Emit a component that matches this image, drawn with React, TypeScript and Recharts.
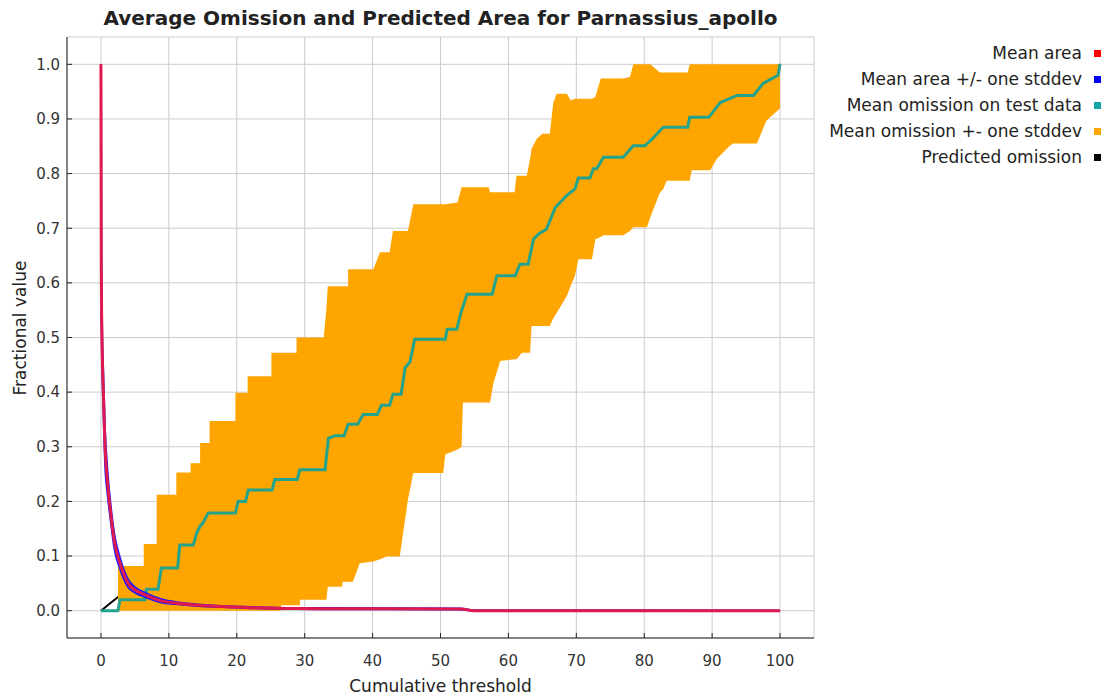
import { ComposedChart, Area, Line, XAxis, YAxis, CartesianGrid } from 'recharts'

const xTicks = [0, 10, 20, 30, 40, 50, 60, 70, 80, 90, 100]
const yTicks = [0, 0.1, 0.2, 0.3, 0.4, 0.5, 0.6, 0.7, 0.8, 0.9, 1.0]

// orange band (mean omission +- one stddev): threshold, lower edge, upper edge
const bandX = [
  2.5, 6.3, 6.3, 8.2, 8.2, 11.1, 11.1, 13.2, 13.2, 14.6, 14.6, 16.0, 16.0, 19.8, 19.8, 21.6, 21.6, 25.1, 25.1,
  26.5, 26.5, 28.8, 28.8, 29.3, 29.3, 32.8, 33.2, 33.4, 35.5, 35.6, 36.4, 36.4, 37.1, 38.1, 40.1, 41.1, 42.1,
  42.5, 43.0, 44.0, 45.2, 46.0, 50.4, 50.7, 52.5, 53.1, 53.3, 57.1, 57.3, 57.8, 58.8, 60.9, 61.2, 62.0, 62.7,
  63.2, 63.4, 64.2, 65.0, 66.1, 66.6, 67.1, 68.6, 69.2, 69.8, 70.3, 72.3, 72.8, 73.6, 74.0, 76.9, 77.9, 78.4,
  80.4, 80.9, 82.3, 82.8, 83.3, 86.4, 86.7, 87.0, 89.7, 90.7, 92.6, 93.1, 96.6, 98.0, 100,
]
const bandLow = [
  0, 0, 0, 0, 0, 0, 0, 0, 0, 0, 0, 0, 0, 0, 0, 0, 0, 0, 0,
  0, 0.01, 0.01, 0.01, 0.01, 0.02, 0.02, 0.02, 0.044, 0.044, 0.053, 0.053, 0.053, 0.053, 0.087, 0.09, 0.094, 0.099,
  0.099, 0.099, 0.099, 0.203, 0.252, 0.252, 0.286, 0.295, 0.3, 0.381, 0.381, 0.381, 0.417, 0.457, 0.46, 0.46, 0.472, 0.472,
  0.472, 0.521, 0.521, 0.521, 0.521, 0.535, 0.545, 0.576, 0.595, 0.613, 0.643, 0.643, 0.68, 0.684, 0.687, 0.687, 0.695, 0.702,
  0.702, 0.72, 0.765, 0.772, 0.787, 0.787, 0.787, 0.806, 0.806, 0.827, 0.851, 0.855, 0.855, 0.897, 0.919,
]
const bandHigh = [
  0.082, 0.082, 0.122, 0.122, 0.212, 0.212, 0.253, 0.253, 0.27, 0.27, 0.307, 0.307, 0.347, 0.347, 0.399, 0.399, 0.429, 0.429, 0.472,
  0.472, 0.472, 0.472, 0.5, 0.5, 0.5, 0.5, 0.552, 0.594, 0.594, 0.594, 0.594, 0.625, 0.625, 0.625, 0.625, 0.656, 0.656,
  0.656, 0.695, 0.695, 0.695, 0.744, 0.744, 0.744, 0.747, 0.775, 0.775, 0.775, 0.766, 0.766, 0.766, 0.766, 0.796, 0.796, 0.796,
  0.827, 0.845, 0.864, 0.873, 0.873, 0.929, 0.946, 0.946, 0.934, 0.937, 0.937, 0.937, 0.94, 0.974, 0.974, 0.974, 0.977, 1.0,
  1.0, 1.0, 0.985, 0.985, 0.985, 0.985, 1.0, 1.0, 1.0, 1.0, 1.0, 1.0, 1.0, 1.0, 1.0,
]

// mean omission on test data
const omitX = [
  0, 2.5, 2.8, 6.5, 6.7, 8.4, 8.9, 11.3, 11.6, 13.6, 14.1, 14.6, 15.0, 15.8, 19.8, 20.2, 21.3, 21.7, 25.2, 25.6,
  28.9, 29.3, 33.0, 33.5, 34.5, 35.8, 36.4, 37.8, 38.6, 40.7, 41.3, 42.5, 43.0, 44.2, 44.8, 45.5, 46.2, 50.7, 51.0,
  52.4, 53.0, 53.9, 57.6, 58.3, 61.0, 61.7, 62.9, 63.7, 64.5, 65.6, 66.9, 68.6, 69.8, 70.3, 72.0, 72.5, 73.0, 74.0,
  76.9, 78.4, 80.1, 81.3, 82.8, 86.4, 86.7, 89.5, 91.2, 93.7, 96.1, 97.5, 99.7, 100,
]
const omitY = [
  0, 0, 0.02, 0.02, 0.039, 0.039, 0.078, 0.078, 0.12, 0.12, 0.142, 0.155, 0.16, 0.179, 0.179, 0.2, 0.2, 0.221, 0.221, 0.24,
  0.24, 0.258, 0.258, 0.316, 0.32, 0.32, 0.341, 0.341, 0.359, 0.359, 0.376, 0.376, 0.396, 0.396, 0.445, 0.455, 0.497, 0.497, 0.515,
  0.515, 0.545, 0.579, 0.579, 0.613, 0.613, 0.634, 0.634, 0.68, 0.69, 0.698, 0.738, 0.76, 0.772, 0.792, 0.792, 0.809, 0.809, 0.83,
  0.83, 0.851, 0.851, 0.865, 0.885, 0.885, 0.903, 0.903, 0.93, 0.943, 0.943, 0.965, 0.98, 1.0,
]

// mean area and +/- one stddev
const areaX = [0, 0.05, 0.15, 0.3, 0.6, 1.0, 1.33, 2.0, 2.8, 4.0, 5.0, 6.5, 8.9, 11.0, 13.8, 17.0, 21.2, 28.6, 40.0, 53.0, 55.0, 100]
const areaMean = [1.0, 0.62, 0.5, 0.42, 0.3, 0.23, 0.19, 0.125, 0.087, 0.05, 0.038, 0.029, 0.018, 0.014, 0.0105, 0.008, 0.006, 0.004, 0.0035, 0.003, 0.0, 0.0]
const areaHigh = [1.0, 0.66, 0.53, 0.45, 0.33, 0.25, 0.205, 0.138, 0.097, 0.057, 0.043, 0.033, 0.021, 0.016, 0.012, 0.009, 0.007, 0.005, 0.0045, 0.004, 0.0005, 0.0]
const areaLow = [0.55, 0.55, 0.47, 0.39, 0.27, 0.21, 0.175, 0.112, 0.077, 0.043, 0.033, 0.025, 0.015, 0.012, 0.009, 0.007, 0.005, 0.003, 0.0025, 0.002, 0.0, 0.0]

// predicted omission
const predX = [0, 100]
const predY = [0, 1]

const legendItems = [
  { label: 'Mean area', color: '#ff0000' },
  { label: 'Mean area +/- one stddev', color: '#0000ff' },
  { label: 'Mean omission on test data', color: '#14a5a5' },
  { label: 'Mean omission +- one stddev', color: '#ffa500' },
  { label: 'Predicted omission', color: '#000000' },
]

const bandData = bandX.map((x, i) => ({ x, range: [bandLow[i], bandHigh[i]] }))
const omitData = omitX.map((x, i) => ({ x, y: omitY[i] }))
const meanData = areaX.map((x, i) => ({ x, y: areaMean[i] }))
const highData = areaX.map((x, i) => ({ x, y: areaHigh[i] }))
const lowData = areaX.map((x, i) => ({ x, y: areaLow[i] }))
const predData = predX.map((x, i) => ({ x, y: predY[i] }))

const font = '"DejaVu Sans", sans-serif'
const tickStyle = { fill: '#333', fontSize: 15, fontFamily: font }

export default function App() {
  return (
    <div style={{ position: 'absolute', left: 0, top: 0, width: 1109, height: 695, background: '#fff', fontFamily: font }}>
      <div
        style={{
          position: 'absolute', left: 67, width: 747, top: 5, textAlign: 'center',
          fontSize: 20, lineHeight: '26px', fontWeight: 'bold', color: '#222',
        }}
      >
        Average Omission and Predicted Area for Parnassius_apollo
      </div>

      <ComposedChart width={1109} height={695} margin={{ top: 37, right: 295, bottom: 0, left: 0 }}>
        <CartesianGrid stroke="#cccccc" strokeWidth={1} />
        <XAxis
          dataKey="x" type="number" domain={[-5, 105]} ticks={xTicks} allowDataOverflow
          height={57} tickSize={-5} tickMargin={22} tick={tickStyle}
          axisLine={{ stroke: '#222' }} tickLine={{ stroke: '#222' }}
        />
        <XAxis
          xAxisId="top" orientation="top" dataKey="x" type="number" domain={[-5, 105]} ticks={xTicks} allowDataOverflow
          height={0} tickSize={-5} tick={false} axisLine={{ stroke: '#222' }} tickLine={{ stroke: '#222' }}
        />
        <YAxis
          type="number" domain={[-0.05, 1.05]} ticks={yTicks} allowDataOverflow width={67}
          tickSize={-5} tickMargin={12} tick={tickStyle} tickFormatter={(v) => Number(v).toFixed(1)}
          axisLine={{ stroke: '#222' }} tickLine={{ stroke: '#222' }}
        />
        <YAxis
          yAxisId="right" orientation="right" type="number" domain={[-0.05, 1.05]} ticks={yTicks} allowDataOverflow
          width={0} tickSize={-5} tick={false} axisLine={{ stroke: '#222' }} tickLine={{ stroke: '#222' }}
        />

        {/* predicted omission drawn as an unfilled area so it stays beneath the orange band */}
        <Area data={predData} dataKey="y" type="linear" stroke="#000" strokeWidth={2} fill="none" isAnimationActive={false} activeDot={false} />
        <Area data={bandData} dataKey="range" type="linear" stroke="none" fill="#ffa500" fillOpacity={1} isAnimationActive={false} activeDot={false} />
        <Line data={omitData} dataKey="y" type="linear" stroke="#23a38d" strokeWidth={3} dot={false} activeDot={false} isAnimationActive={false} />
        <Line data={highData} dataKey="y" type="monotone" stroke="#1a1aff" strokeWidth={2} dot={false} activeDot={false} isAnimationActive={false} />
        <Line data={lowData} dataKey="y" type="monotone" stroke="#1a1aff" strokeWidth={2} dot={false} activeDot={false} isAnimationActive={false} />
        <Line data={meanData} dataKey="y" type="monotone" stroke="#e0184e" strokeWidth={3} dot={false} activeDot={false} isAnimationActive={false} />
      </ComposedChart>

      <div
        style={{
          position: 'absolute', left: 0, top: 676, width: 881, textAlign: 'center', fontSize: 17, color: '#222',
          lineHeight: '20px',
        }}
      >
        Cumulative threshold
      </div>
      <div
        style={{
          position: 'absolute', left: 20, top: 328, width: 300, marginLeft: -150, marginTop: -10, textAlign: 'center',
          fontSize: 17, color: '#222', lineHeight: '20px', transform: 'rotate(-90deg)',
        }}
      >
        Fractional value
      </div>

      {legendItems.map((it, i) => (
        <div key={it.label} style={{ position: 'absolute', top: 43 + i * 26, right: 1109 - 1101, height: 20, display: 'flex', alignItems: 'center' }}>
          <span style={{ fontSize: 17, color: '#222', lineHeight: '20px', marginRight: 12 }}>{it.label}</span>
          <span style={{ width: 7, height: 7, background: it.color, display: 'inline-block' }} />
        </div>
      ))}
    </div>
  )
}
